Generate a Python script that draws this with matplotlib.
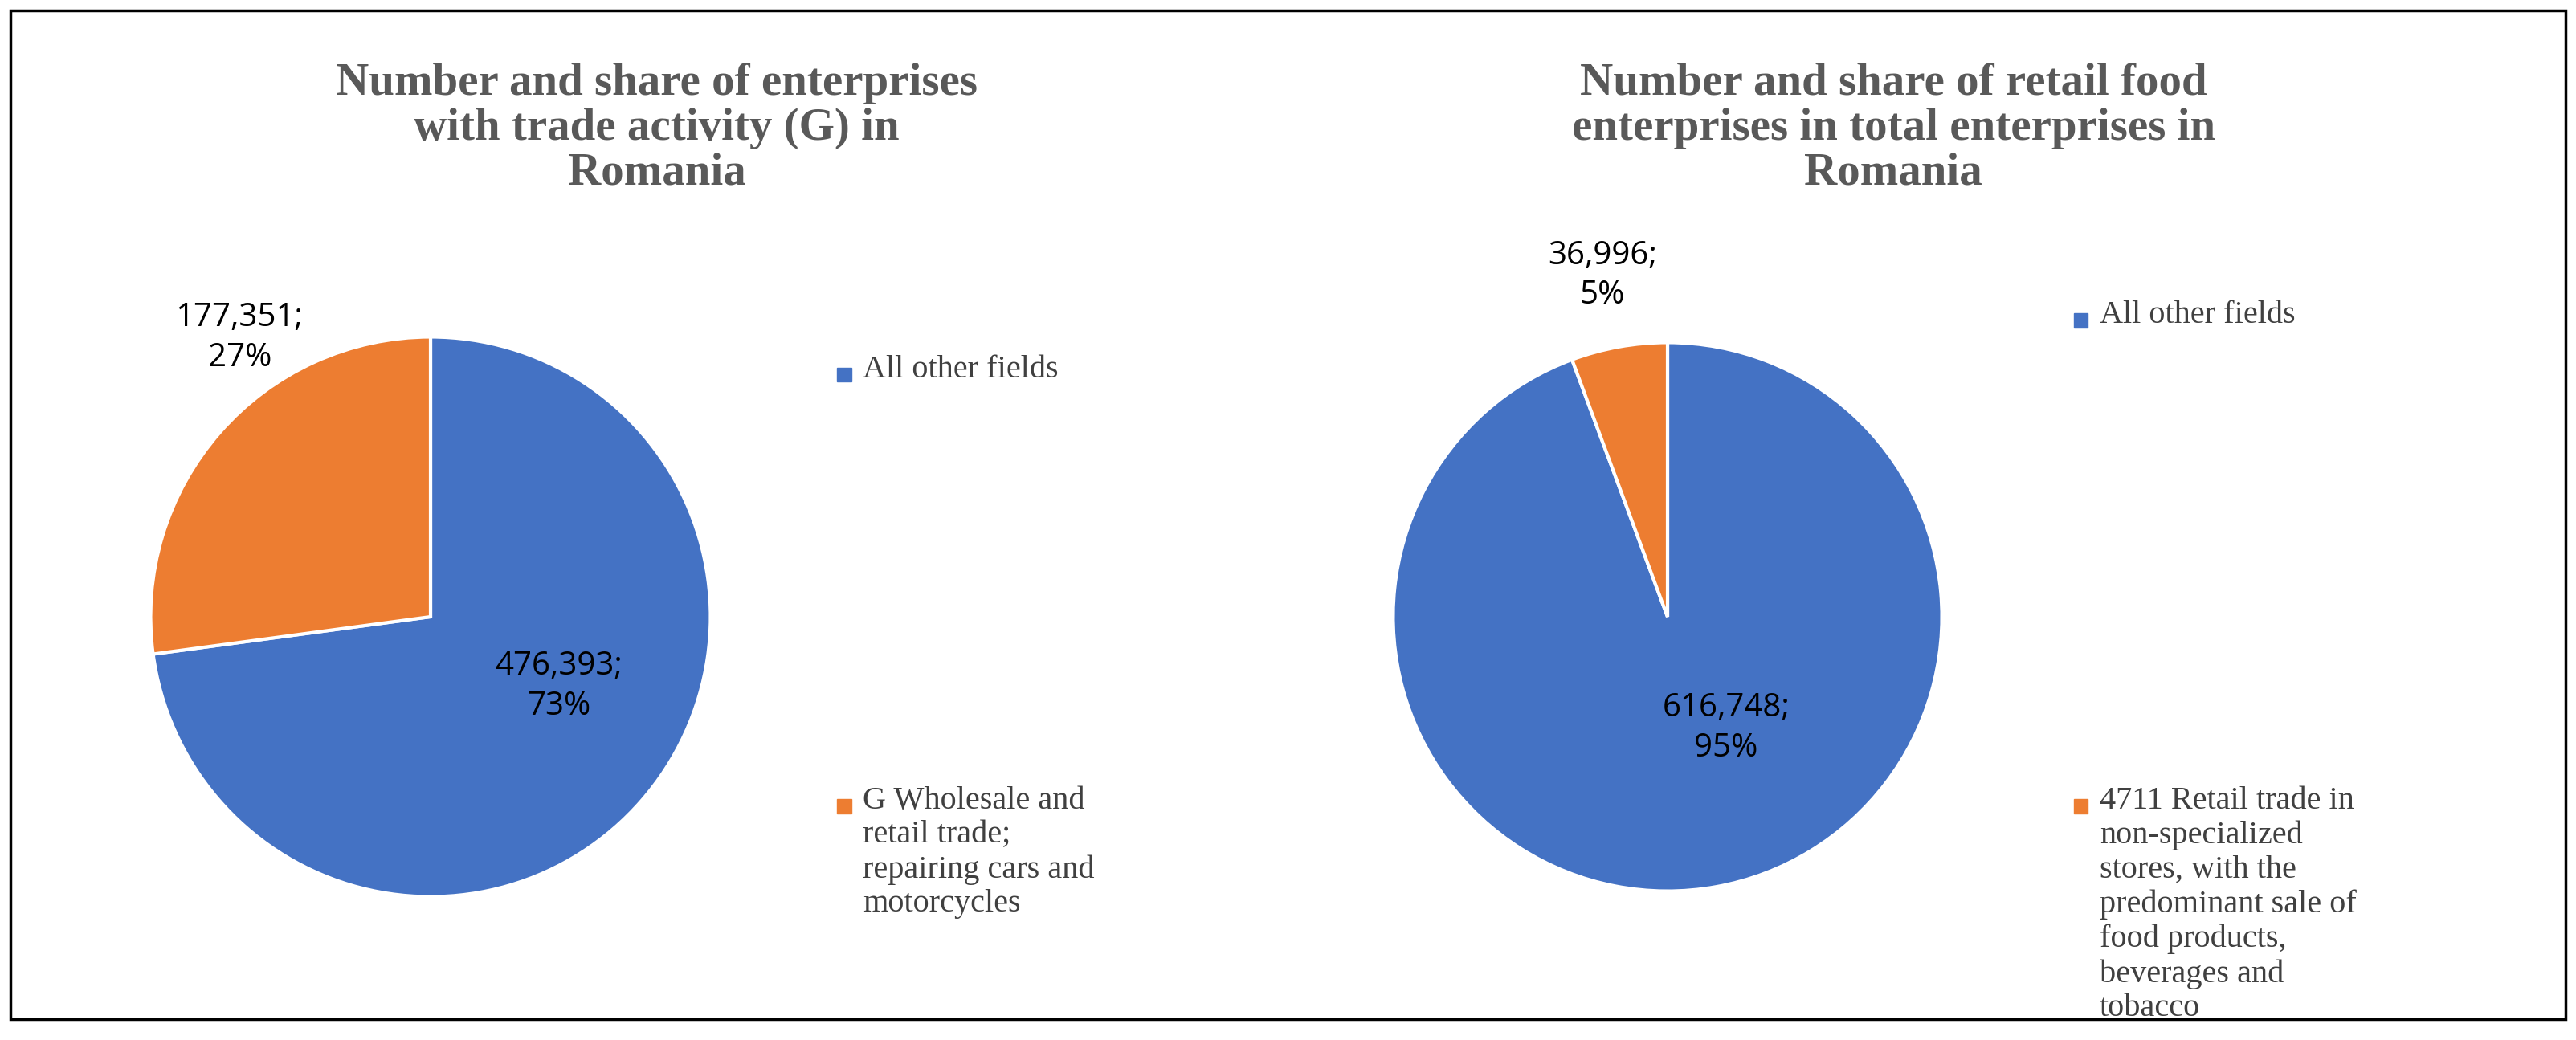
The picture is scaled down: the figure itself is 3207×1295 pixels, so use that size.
import matplotlib.pyplot as plt
from matplotlib.patches import Rectangle

BLUE = "#4472C4"
ORANGE = "#ED7D31"

left_title = "Number and share of enterprises\nwith trade activity (G) in\nRomania"
left_values = [476393, 177351]
left_pct = [73, 27]
left_labels = ["All other fields", "G Wholesale and\nretail trade;\nrepairing cars and\nmotorcycles"]

right_title = "Number and share of retail food\nenterprises in total enterprises in\nRomania"
right_values = [616748, 36996]
right_pct = [95, 5]
right_labels = ["All other fields", "4711 Retail trade in\nnon-specialized\nstores, with the\npredominant sale of\nfood products,\nbeverages and\ntobacco"]

W, H = 32.07, 12.95
fig = plt.figure(figsize=(W, H), dpi=100)
fig.patches.append(Rectangle((0.004, 0.02), 0.992, 0.97, transform=fig.transFigure,
                             fill=False, edgecolor="black", linewidth=2.5))

SERIF = "Liberation Serif"


def draw(cx, cy, r, values, pct, labels, title, title_x, inside_xy, outside_xy, leg_x, leg_ys):
    ax = fig.add_axes([(cx - r) / W, (cy - r) / H, 2 * r / W, 2 * r / H])
    ax.pie(values, colors=[BLUE, ORANGE], startangle=90, counterclock=False,
           wedgeprops=dict(edgecolor="white", linewidth=3))
    ax.set_xlim(-1.01, 1.01)
    ax.set_ylim(-1.01, 1.01)
    ax.set_aspect("equal")
    txt = [f"{v:,};\n{p}%" for v, p in zip(values, pct)]
    fig.text(inside_xy[0], inside_xy[1], txt[0], ha="center", va="center", fontsize=29,
             family="Open Sans", linespacing=1.3)
    fig.text(outside_xy[0], outside_xy[1], txt[1], ha="center", va="center", fontsize=29,
             family="Open Sans", linespacing=1.3)
    fig.text(title_x, 0.94, title, ha="center", va="top", fontsize=41, fontweight="bold",
             family=SERIF, color="#595959", linespacing=1.1)
    for lab, y, col in zip(labels, leg_ys, [BLUE, ORANGE]):
        fig.patches.append(Rectangle((leg_x, y - 0.01), 0.0055, 0.0135,
                                     transform=fig.transFigure, color=col))
        fig.text(leg_x + 0.01, y + 0.016, lab, ha="left", va="top", fontsize=29,
                 family=SERIF, color="#404040", linespacing=1.2)


draw(5.36, 5.27, 3.52, left_values, left_pct, left_labels, left_title, 0.255,
     (0.217, 0.34), (0.093, 0.675), 0.325, [0.643, 0.228])
draw(20.76, 5.27, 3.45, right_values, right_pct, right_labels, right_title, 0.735,
     (0.67, 0.3), (0.622, 0.735), 0.805, [0.695, 0.228])

fig.savefig("out.png", dpi=100)
